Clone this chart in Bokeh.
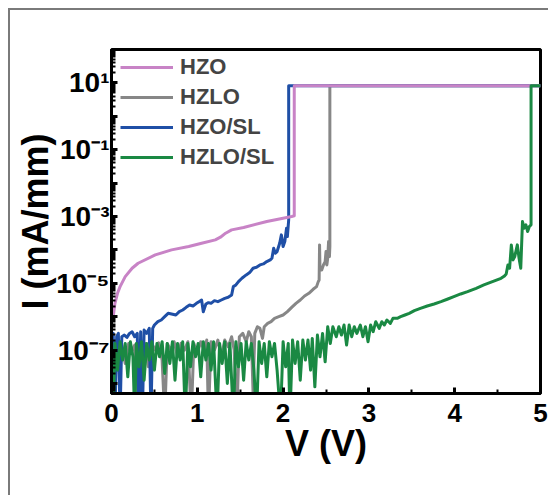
from bokeh.plotting import figure
from bokeh.models import (Range1d, FixedTicker, CustomJSTickFormatter, Legend,
                          LegendItem)
from bokeh.embed import file_html
from bokeh.resources import INLINE

# ---------------- data: (V in volts, log10 of I in mA/mm) ----------------
hzo = [(0.02, -6.0), (0.04, -5.6), (0.07, -5.3), (0.10, -5.1), (0.16, -4.8),
       (0.24, -4.55), (0.31, -4.4), (0.51, -4.15), (0.70, -4.0), (0.90, -3.9),
       (1.05, -3.8), (1.21, -3.7), (1.27, -3.62), (1.33, -3.5), (1.40, -3.4),
       (1.54, -3.33), (1.81, -3.15), (2.00, -3.05), (2.10, -3.0), (2.13, -2.98),
       (2.13, 0.915), (5.0, 0.915)]

hzlo = [(0.00, -6.9), (0.04, -6.8), (0.08, -7.2), (0.12, -6.85), (0.16, -7.4),
        (0.20, -6.8), (0.24, -7.0), (0.27, -6.85), (0.29, -9), (0.31, -6.8),
        (0.35, -7.1), (0.39, -6.8), (0.43, -7.5), (0.47, -6.8), (0.51, -7.0),
        (0.55, -6.78), (0.59, -7.3), (0.62, -9), (0.65, -6.8), (0.69, -7.0),
        (0.73, -6.75), (0.77, -7.2), (0.81, -6.8), (0.85, -7.0), (0.89, -6.75),
        (0.93, -9), (0.96, -6.8), (1.00, -7.1), (1.04, -6.75), (1.08, -7.0),
        (1.11, -6.7), (1.13, -9), (1.16, -6.75), (1.20, -7.0), (1.24, -6.7),
        (1.28, -7.2), (1.32, -6.7), (1.36, -6.9), (1.40, -6.6), (1.43, -7.0),
        (1.46, -9), (1.49, -6.6), (1.53, -6.5), (1.57, -6.75), (1.60, -6.45),
        (1.63, -6.6), (1.65, -8.3), (1.67, -6.5), (1.70, -6.3), (1.73, -6.35),
        (1.76, -6.65), (1.78, -6.3), (1.82, -6.2), (1.86, -6.15), (1.90, -6.05),
        (1.95, -6.0), (2.00, -5.95), (2.05, -5.85), (2.10, -5.72), (2.15, -5.6),
        (2.20, -5.5), (2.25, -5.38), (2.30, -5.3), (2.35, -5.18), (2.39, -5.1),
        (2.41, -4.95), (2.42, -4.9), (2.425, -3.85), (2.43, -4.6), (2.45, -4.6),
        (2.47, -4.45), (2.49, -4.35), (2.50, -4.05), (2.51, -4.45), (2.52, -4.25),
        (2.53, -3.75), (2.54, -4.2), (2.545, -3.9), (2.545, 0.915), (5.0, 0.915)]

hzo_sl = [(0.00, -6.6), (0.02, -6.5), (0.04, -9), (0.06, -6.6), (0.08, -6.5),
          (0.10, -9), (0.12, -6.6), (0.15, -6.55), (0.18, -6.62), (0.21, -6.5),
          (0.24, -6.45), (0.27, -6.6), (0.30, -6.5), (0.32, -9), (0.34, -6.45),
          (0.36, -9), (0.38, -6.4), (0.41, -6.5), (0.44, -6.35), (0.46, -9),
          (0.48, -6.35), (0.50, -6.25), (0.54, -6.15), (0.58, -6.1), (0.62, -6.0),
          (0.66, -5.9), (0.70, -5.92), (0.75, -5.95), (0.79, -5.85), (0.83, -5.8),
          (0.87, -5.72), (0.91, -5.65), (0.95, -5.68), (0.99, -5.6), (1.02, -5.55),
          (1.05, -5.5), (1.07, -5.85), (1.10, -5.62), (1.13, -5.58), (1.16, -5.6),
          (1.20, -5.52), (1.24, -5.55), (1.28, -5.5), (1.32, -5.45), (1.36, -5.42),
          (1.40, -5.35), (1.42, -5.1), (1.45, -5.05), (1.48, -4.95), (1.52, -4.85),
          (1.57, -4.75), (1.61, -4.68), (1.65, -4.55), (1.69, -4.52), (1.73, -4.45),
          (1.77, -4.42), (1.81, -4.35), (1.85, -4.3), (1.87, -4.25), (1.89, -3.95),
          (1.91, -4.1), (1.93, -4.05), (1.96, -3.8), (1.98, -3.55), (2.00, -3.9),
          (2.02, -3.75), (2.04, -3.35), (2.05, -3.6), (2.065, -3.1),
          (2.065, 0.915), (5.0, 0.915)]

hzlo_sl = [(0.00, -6.9), (0.02, -9), (0.04, -6.8), (0.07, -7.6), (0.10, -6.75),
           (0.13, -7.3), (0.16, -6.8), (0.19, -7.8), (0.22, -6.75), (0.25, -7.2),
           (0.27, -9), (0.29, -6.8), (0.32, -7.5), (0.35, -6.75), (0.38, -7.9),
           (0.41, -6.8), (0.44, -7.3), (0.47, -6.75), (0.50, -7.6), (0.53, -6.8),
           (0.56, -7.2), (0.59, -6.75), (0.62, -7.7), (0.65, -6.8), (0.68, -7.4),
           (0.71, -6.75), (0.74, -7.9), (0.77, -6.8), (0.80, -7.3), (0.83, -6.75),
           (0.86, -9), (0.89, -6.8), (0.92, -7.5), (0.95, -6.75), (0.98, -7.2),
           (1.01, -6.8), (1.04, -7.8), (1.07, -6.75), (1.10, -7.3), (1.13, -6.8),
           (1.16, -7.6), (1.19, -6.75), (1.23, -9), (1.26, -6.8), (1.29, -7.4),
           (1.32, -6.75), (1.35, -8.0), (1.38, -6.8), (1.42, -9), (1.45, -6.75),
           (1.48, -7.5), (1.51, -6.8), (1.54, -7.9), (1.57, -6.75), (1.60, -7.3),
           (1.63, -6.8), (1.66, -7.6), (1.69, -9), (1.72, -6.75), (1.75, -7.4),
           (1.78, -6.8), (1.81, -7.8), (1.84, -6.75), (1.87, -7.2), (1.90, -6.8),
           (1.93, -7.6), (1.97, -9), (2.00, -6.75), (2.03, -7.5), (2.06, -6.8),
           (2.08, -9), (2.11, -6.7), (2.14, -7.4), (2.17, -6.75), (2.20, -7.9),
           (2.23, -6.7), (2.26, -7.3), (2.29, -6.7), (2.32, -7.6), (2.34, -6.65),
           (2.37, -8.1), (2.40, -6.55), (2.43, -7.2), (2.46, -6.5), (2.49, -7.35),
           (2.52, -6.3), (2.55, -6.8), (2.58, -6.3), (2.62, -6.6), (2.65, -6.3),
           (2.68, -6.55), (2.71, -6.25), (2.74, -6.85), (2.77, -6.25), (2.80, -6.6),
           (2.83, -6.3), (2.86, -6.5), (2.90, -6.25), (2.93, -6.6), (2.96, -6.3),
           (2.99, -6.75), (3.02, -6.25), (3.05, -6.45), (3.08, -6.15), (3.12, -6.35),
           (3.15, -6.15), (3.18, -6.25), (3.21, -6.1), (3.25, -6.2), (3.28, -6.05),
           (3.33, -6.05), (3.37, -6.0), (3.42, -5.95), (3.47, -5.9), (3.53, -5.82),
           (3.60, -5.75), (3.68, -5.68), (3.76, -5.62), (3.84, -5.55), (3.92, -5.47),
           (3.99, -5.4), (4.07, -5.32), (4.15, -5.25), (4.25, -5.15), (4.34, -5.05),
           (4.44, -4.95), (4.54, -4.85), (4.58, -4.78), (4.60, -4.72), (4.62, -4.45),
           (4.64, -4.55), (4.66, -3.85), (4.68, -4.3), (4.70, -4.2), (4.73, -3.85),
           (4.75, -4.25), (4.77, -4.55), (4.79, -3.15), (4.81, -3.35), (4.83, -3.25),
           (4.85, -3.45), (4.87, -3.3), (4.89, -3.25), (4.89, 0.915), (5.0, 0.915)]

series_names = ["HZO", "HZLO", "HZO/SL", "HZLO/SL"]
series_colors = ["#c883c6", "#878787", "#1f4fa6", "#1a8943"]

x_title = "V (V)"
y_title = "I (mA/mm)"
x_ticks = [0, 1, 2, 3, 4, 5]
x_minor_ticks = [0.5, 1.5, 2.5, 3.5, 4.5]
y_label_exps = [1, -1, -3, -5, -7]
y_tick_labels = ["10\u00b9", "10\u207b\u00b9", "10\u207b\u00b3", "10\u207b\u2075", "10\u207b\u2077"]
y_major_ticks = [10.0 ** e for e in range(-8, 2)]
y_minor_ticks = [k * 10.0 ** e for e in range(-9, 2) for k in range(2, 10)]

FONT = "Liberation Sans"

p = figure(width=540, height=487, margin=(8, 0, 0, 8),
           styles={"border-left": "2px solid #7a7a7a", "border-top": "2px solid #7a7a7a"},
           y_axis_type="log", x_range=Range1d(0, 5), y_range=Range1d(10 ** -8.3, 10 ** 2),
           output_backend="svg", toolbar_location=None,
           min_border_left=101, min_border_right=10, min_border_top=39, min_border_bottom=104)
p.background_fill_color = "white"
p.border_fill_color = "white"
p.grid.visible = False
p.outline_line_color = "black"
p.outline_line_width = 3


def xy(data):
    v = [d[0] for d in data]
    i = [10.0 ** d[1] for d in data]
    return v, i


series = {"HZO": hzo, "HZLO": hzlo, "HZO/SL": hzo_sl, "HZLO/SL": hzlo_sl}
renderers = {}
for name in ["HZLO", "HZO/SL", "HZO", "HZLO/SL"]:
    v, i = xy(series[name])
    color = series_colors[series_names.index(name)]
    renderers[name] = p.line(v, i, line_color=color, line_width=3, line_join="round")

legend = Legend(items=[LegendItem(label=n, renderers=[renderers[n]]) for n in series_names],
                location=(9, 221), border_line_color=None, background_fill_alpha=0,
                padding=0, margin=0, spacing=0, glyph_width=53, glyph_height=30,
                label_height=30, label_standoff=7, label_text_font=FONT,
                label_text_font_style="bold", label_text_font_size="22px")
p.add_layout(legend)

# axes
for ax in (p.xaxis[0], p.yaxis[0]):
    ax.axis_line_width = 3
    ax.major_tick_line_width = 3
    ax.minor_tick_line_width = 2
    ax.major_tick_out = 0
    ax.minor_tick_out = 0
    ax.major_label_text_font = FONT
    ax.major_label_text_font_style = "bold"
    ax.major_label_text_color = "black"
    ax.axis_label_text_font = FONT
    ax.axis_label_text_font_style = "bold"
    ax.axis_label_text_font_size = "36px"
    ax.axis_label_text_color = "black"

p.xaxis.axis_label = x_title
p.yaxis.axis_label = y_title

p.xaxis.ticker = FixedTicker(ticks=x_ticks, minor_ticks=x_minor_ticks)
p.xaxis.major_tick_in = 6
p.xaxis.minor_tick_in = 4
p.xaxis.major_label_standoff = 10
p.xaxis.major_label_text_font_size = "26px"
p.xaxis.axis_label_standoff = -2

p.yaxis.ticker = FixedTicker(ticks=y_major_ticks, minor_ticks=y_minor_ticks)
p.yaxis.major_tick_in = 6
p.yaxis.minor_tick_in = 4
p.yaxis.major_label_standoff = 2
p.yaxis.major_label_text_font_size = "28px"
p.yaxis.axis_label_standoff = -3
p.yaxis.formatter = CustomJSTickFormatter(
    args=dict(exps=y_label_exps, labels=y_tick_labels),
    code="const e = Math.round(Math.log10(tick)); const i = exps.indexOf(e); return i >= 0 ? labels[i] : '';")

open("out.html", "w").write(file_html(p, INLINE))
